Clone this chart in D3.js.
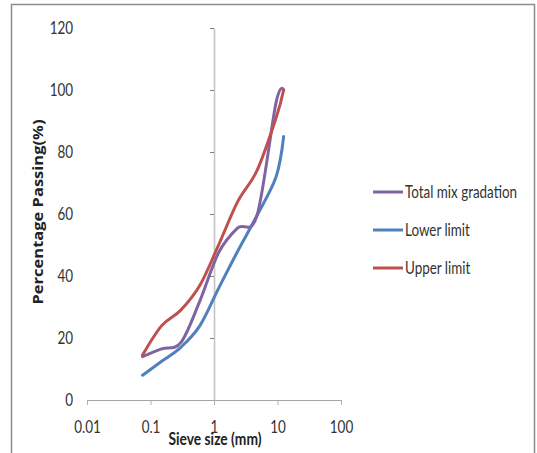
<!DOCTYPE html>
<html>
<head>
<meta charset="utf-8">
<script src="https://cdn.jsdelivr.net/npm/d3@7"></script>
<style>
  body { margin: 0; background: #fff; }
  svg { display: block; }
  .tickText { font-family: Lato, "Open Sans", sans-serif; font-size: 17px; fill: #333; }
</style>
</head>
<body>
<div id="chart"></div>
<script>
// sieve sizes (mm) and % passing
var sieveSizes = [0.075, 0.15, 0.3, 0.6, 1.18, 2.36, 4.75, 9.5, 12.5];
var totalMix = [14, 16.5, 18.5, 32, 47.5, 55.5, 59.5, 96, 100];
var lowerLimit = [8, 12.5, 17, 24, 36, 48, 59.5, 72, 85];
var upperLimit = [14.5, 24, 29, 37, 50, 64, 74, 91, 100];
var seriesNames = ["Total mix gradation", "Lower limit", "Upper limit"];
var seriesColors = ["#8064A2", "#4F81BD", "#C0504D"];
var xTicks = [0.01, 0.1, 1, 10, 100];
var yTicks = [0, 20, 40, 60, 80, 100, 120];

var width = 537, height = 453;
var squeeze = "scale(0.79,1)"; // the source font is a narrow one

var svg = d3.select("#chart").append("svg")
    .attr("width", width)
    .attr("height", height);

// outer frame
svg.append("rect")
    .attr("x", 11.5)
    .attr("y", 4.5)
    .attr("width", 523)
    .attr("height", 470)
    .attr("fill", "white")
    .attr("stroke", "#8c8c8c")
    .attr("stroke-width", 1.5);

var x = d3.scaleLog().domain([0.01, 100]).range([87, 341]);
var y = d3.scaleLinear().domain([0, 120]).range([400, 28]);

// y axis line + tick marks, crossing at x = 1
var yAxis = svg.append("g")
    .attr("transform", "translate(" + x(1) + ",0)")
    .call(d3.axisLeft(y).tickValues(yTicks).tickSizeInner(4).tickSizeOuter(0).tickFormat(""));
yAxis.select(".domain").attr("stroke", "#c4c4c4").attr("stroke-width", 1.6);
yAxis.selectAll(".tick line").attr("stroke", "#7f7f7f");

// y tick labels sit at the low side
var yLabels = svg.append("g")
    .attr("transform", "translate(73,0)")
    .call(d3.axisLeft(y).tickValues(yTicks).tickSize(0).tickPadding(0));
yLabels.select(".domain").remove();
yLabels.selectAll("text")
    .attr("class", "tickText")
    .attr("transform", squeeze);
yLabels.attr("font-family", null).attr("font-size", null);

// x axis
var xAxis = svg.append("g")
    .attr("transform", "translate(0," + y(0) + ")")
    .call(d3.axisBottom(x).tickValues(xTicks).tickSizeInner(5).tickSizeOuter(0).tickPadding(16)
        .tickFormat(function (d) { return String(d); }));
xAxis.select(".domain").attr("stroke", "#a6a6a6").attr("stroke-width", 1.2);
xAxis.selectAll(".tick line").attr("stroke", "#b0b0b0");
xAxis.selectAll("text")
    .attr("class", "tickText")
    .attr("transform", squeeze);
xAxis.attr("font-family", null).attr("font-size", null);

// axis titles
svg.append("text")
    .attr("transform", "translate(43,212) rotate(-90) scale(1,0.85)")
    .attr("text-anchor", "middle")
    .attr("font-family", "'Open Sans', sans-serif")
    .attr("font-weight", "bold")
    .attr("font-size", 16.5)
    .attr("fill", "#222")
    .text("Percentage Passing(%)");

svg.append("text")
    .attr("transform", "translate(215,445) " + squeeze)
    .attr("text-anchor", "middle")
    .attr("font-family", "Lato, sans-serif")
    .attr("font-weight", "bold")
    .attr("font-size", 17.5)
    .attr("fill", "#222")
    .text("Sieve size (mm)");

// smoothed lines like the spreadsheet
var line = d3.line()
    .x(function (d) { return x(d[0]); })
    .y(function (d) { return y(d[1]); })
    .curve(d3.curveCatmullRom.alpha(0));

var seriesData = [totalMix, lowerLimit, upperLimit];
var drawOrder = [1, 0, 2]; // upper limit on top

drawOrder.forEach(function (i) {
    var pts = sieveSizes.map(function (s, k) { return [s, seriesData[i][k]]; });
    svg.append("path")
        .datum(pts)
        .attr("d", line)
        .attr("fill", "none")
        .attr("stroke", seriesColors[i])
        .attr("stroke-width", 3)
        .attr("stroke-linecap", "round");
});

// legend
var legend = svg.append("g").selectAll("g")
    .data(seriesNames)
    .enter().append("g")
    .attr("transform", function (d, i) { return "translate(373," + (192 + i * 38) + ")"; });

legend.append("line")
    .attr("x1", 0).attr("x2", 30)
    .attr("stroke", function (d, i) { return seriesColors[i]; })
    .attr("stroke-width", 3);

legend.append("text")
    .attr("class", "tickText")
    .attr("transform", "translate(32,0) " + squeeze)
    .attr("dy", "0.35em")
    .text(function (d) { return d; });
</script>
</body>
</html>
